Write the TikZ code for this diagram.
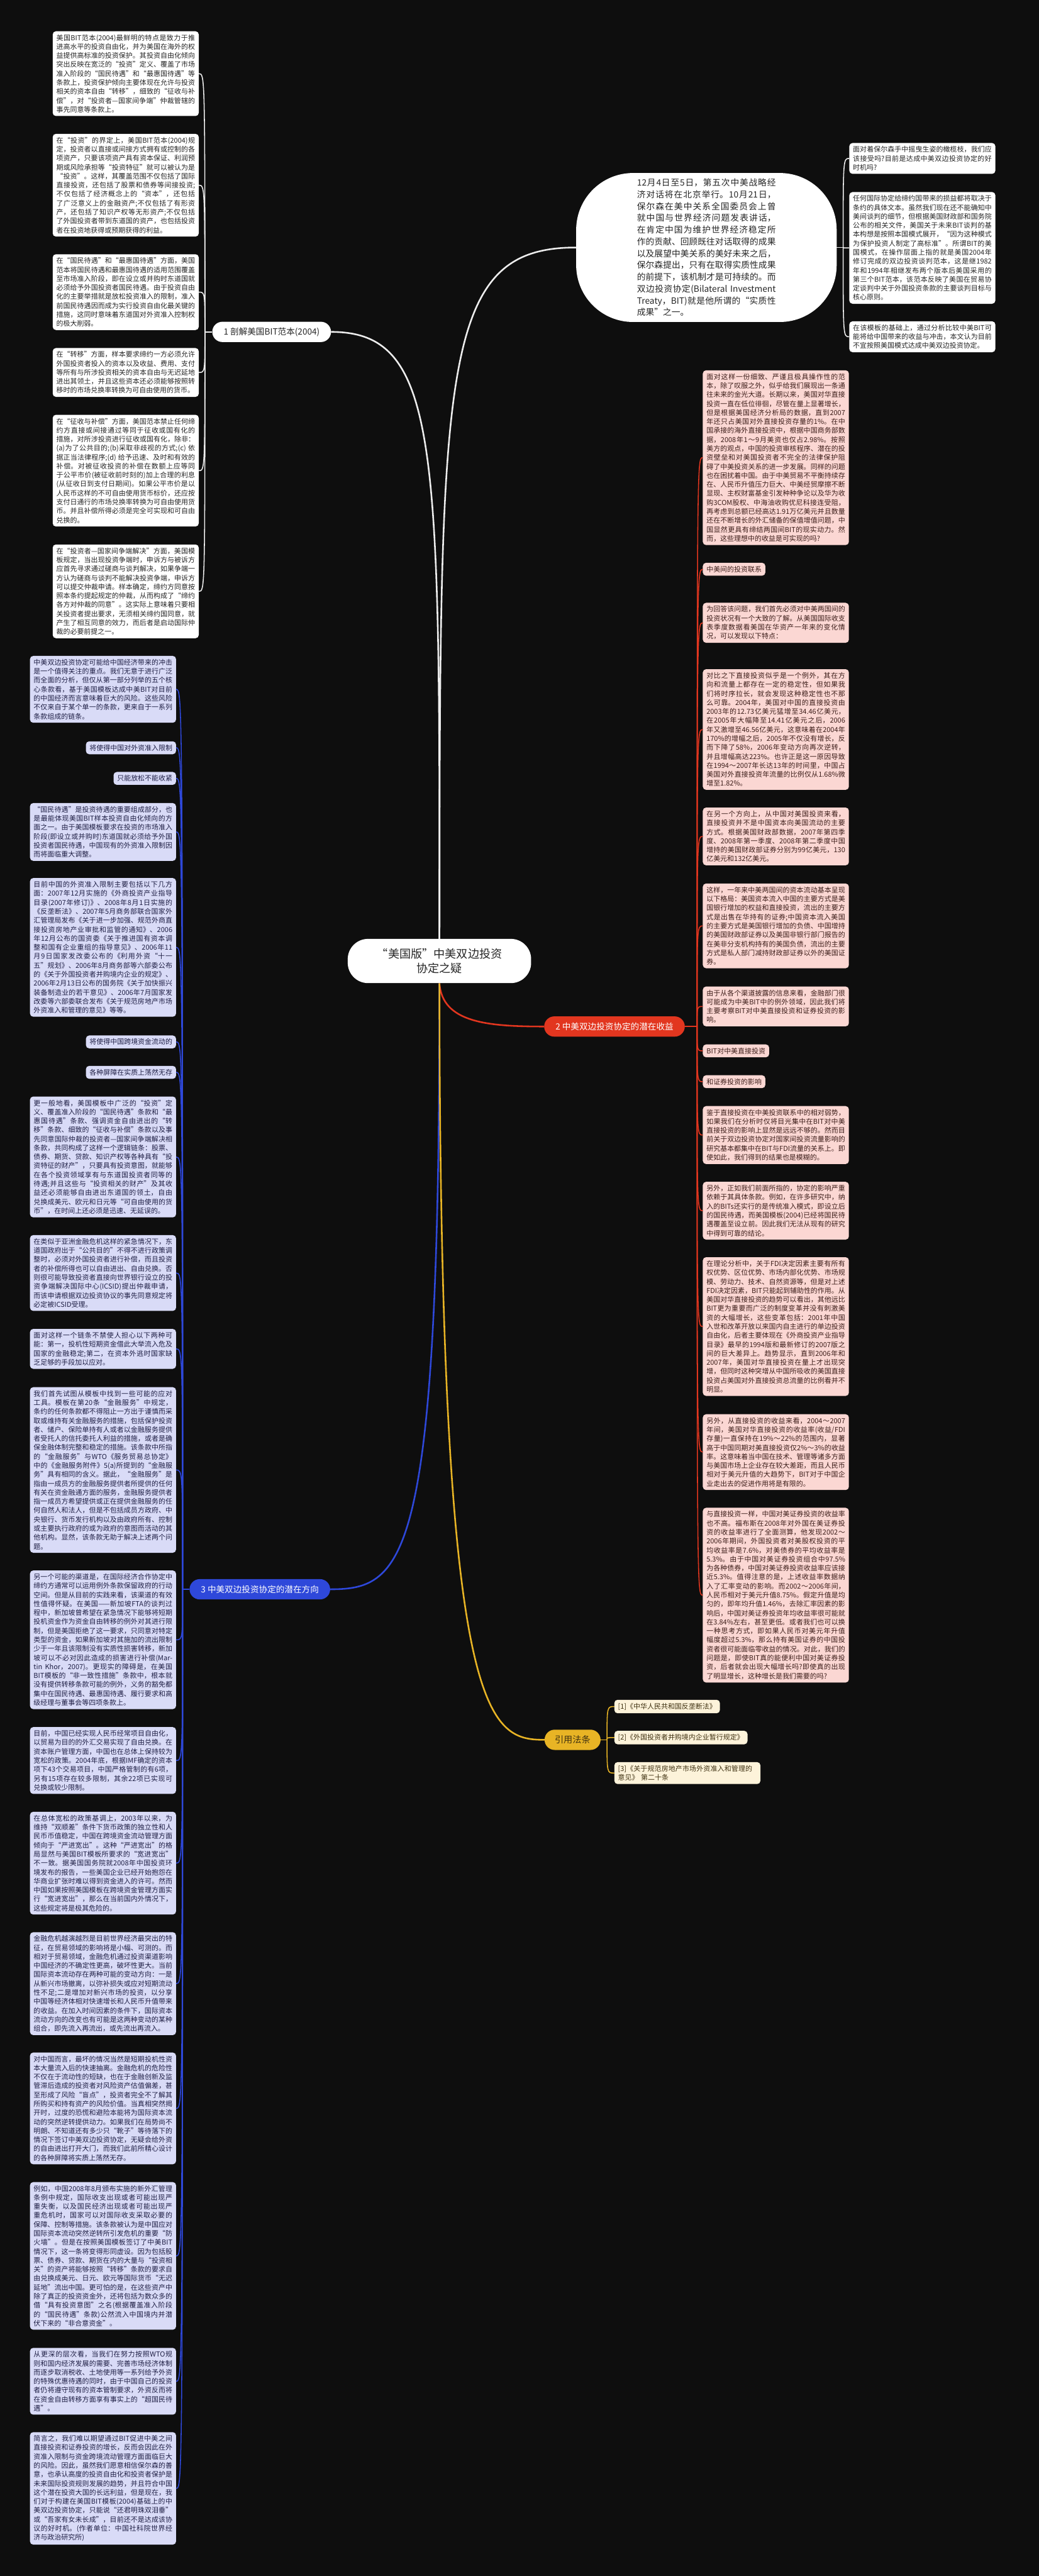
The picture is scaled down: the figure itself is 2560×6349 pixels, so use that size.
\documentclass[tikz,border=0pt]{standalone}
\usepackage{fontspec}
\setmainfont{Noto Sans CJK SC}
\XeTeXlinebreaklocale "zh"
\XeTeXlinebreakskip = 0pt plus 1pt

\definecolor{bgblack}{HTML}{0E0E0E}
\definecolor{darkink}{HTML}{262626}
\definecolor{lavbox}{HTML}{D9DBF7}
\definecolor{lavink}{HTML}{1F1F45}
\definecolor{pinkbox}{HTML}{FBD7D3}
\definecolor{pinkink}{HTML}{3D1E1A}
\definecolor{creambox}{HTML}{FDF3DA}
\definecolor{creamink}{HTML}{3E3010}
\definecolor{greylink}{HTML}{EDEDED}
\definecolor{redlink}{HTML}{E2361F}
\definecolor{bluelink}{HTML}{2E48DA}
\definecolor{goldlink}{HTML}{E8B425}

\tikzset{
  leaf/.style={rounded corners=0.4cm, inner xsep=0.45cm, inner ysep=0.4cm,
    text width=17.1cm, align=justify, font=\fontsize{24.2pt}{31.5pt}\selectfont},
  tag/.style={rounded corners=0.4cm, inner xsep=0.45cm, inner ysep=0.4cm,
    font=\fontsize{24.2pt}{31.5pt}\selectfont},
  paper/.style={fill=white, text=darkink},
  lilac/.style={fill=lavbox, text=lavink},
  rose/.style={fill=pinkbox, text=pinkink},
  cream/.style={fill=creambox, text=creamink},
  branch/.style={rounded corners=1.25cm, minimum height=2.5cm, inner xsep=1.4cm,
    font=\fontsize{30pt}{36pt}\selectfont},
  rootbox/.style={fill=white, text=darkink, rounded corners=2.5cm, minimum width=22.6cm,
    minimum height=5.45cm, align=center, font=\fontsize{40pt}{52.5pt}\selectfont},
  introbox/.style={fill=white, text=darkink, rounded corners=7cm, inner xsep=7.5cm,
    inner ysep=0.7cm, text width=17.1cm, align=justify, font=\fontsize{30.3pt}{41.3pt}\selectfont},
  mainlink/.style={line width=0.2cm},
  leaflink/.style={line width=0.12cm}
}

\begin{document}
\begin{tikzpicture}[x=0.05cm, y=-0.05cm]

\fill[bgblack] (0,0) rectangle (2560,6349);
\useasboundingbox (0,0) rectangle (2560,6349);

\node[rootbox] (root) at (1083,2368.5) {“美国版”中美双边投资\\协定之疑};

\node[introbox] (intro) at (1741,610) {12月4日至5日，第五次中美战略经济对话将在北京举行。10月21日，保尔森在美中关系全国委员会上曾就中国与世界经济问题发表讲话，在肯定中国为维护世界经济稳定所作的贡献、回顾既往对话取得的成果以及展望中美关系的美好未来之后，保尔森提出，只有在取得实质性成果的前提下，该机制才是可持续的。而双边投资协定(Bilateral Investment Treaty，BIT)就是他所谓的“实质性成果”之一。};

\node[leaf, paper, anchor=west] (ask) at (2093,390.5) {面对着保尔森手中摇曳生姿的橄榄枝，我们应该接受吗?目前是达成中美双边投资协定的好时机吗?};
\node[leaf, paper, anchor=west] (plan) at (2093,611) {任何国际协定给缔约国带来的损益都将取决于条约的具体文本。虽然我们现在还不能确知中美间谈判的细节，但根据美国财政部和国务院公布的相关文件，美国关于未来BIT谈判的基本构想是按照本国模式展开，“因为这种模式为保护投资人制定了高标准”。所谓BIT的美国模式，在操作层面上指的就是美国2004年修订完成的双边投资谈判范本，这是继1982年和1994年相继发布两个版本后美国采用的第三个BIT范本，该范本反映了美国在贸易协定谈判中关于外国投资条款的主要谈判目标与核心原则。};
\node[leaf, paper, anchor=west] (view) at (2093,830) {在该模板的基础上，通过分析比较中美BIT可能将给中国带来的收益与冲击，本文认为目前不宜按照美国模式达成中美双边投资协定。};

\node[branch, fill=white, text=darkink, anchor=west] (br1) at (523,818) {1 剖解美国BIT范本(2004)};
\node[branch, fill=redlink, text=white, anchor=west] (br2) at (1341,2530) {2 中美双边投资协定的潜在收益};
\node[branch, fill=bluelink, text=white, anchor=west] (br3) at (467,3917) {3 中美双边投资协定的潜在方向};
\node[branch, fill=goldlink, text=creamink, inner xsep=1.25cm, font=\fontsize{31.3pt}{36pt}\selectfont, anchor=west] (cite) at (1342,4288) {引用法条};

\node[leaf, paper, anchor=east] (a1) at (490,181.5) {美国BIT范本(2004)最鲜明的特点是致力于推进高水平的投资自由化，并为美国在海外的权益提供高标准的投资保护。其投资自由化倾向突出反映在宽泛的“投资”定义、覆盖了市场准入阶段的“国民待遇”和“最惠国待遇”等条款上，投资保护倾向主要体现在允许与投资相关的资本自由“转移”，细致的“征收与补偿”，对“投资者—国家间争端”仲裁管辖的事先同意等条款上。};
\node[leaf, paper, anchor=east] (a2) at (490,456.5) {在“投资”的界定上，美国BIT范本(2004)规定，投资者以直接或间接方式拥有或控制的各项资产，只要该项资产具有资本保证、利润预期或风险承担等“投资特征”就可以被认为是“投资”。这样，其覆盖范围不仅包括了国际直接投资，还包括了股票和债券等间接投资;不仅包括了经济概念上的“资本”，还包括了广泛意义上的金融资产;不仅包括了有形资产，还包括了知识产权等无形资产;不仅包括了外国投资者带到东道国的资产，也包括投资者在投资地获得或预期获得的利益。};
\node[leaf, paper, anchor=east] (a3) at (490,720) {在“国民待遇”和“最惠国待遇”方面，美国范本将国民待遇和最惠国待遇的适用范围覆盖至市场准入阶段，即在设立或并购时东道国就必须给予外国投资者国民待遇。由于投资自由化的主要举措就是放松投资准入的限制，准入前国民待遇因而成为实行投资自由化最关键的措施，这同时意味着东道国对外资准入控制权的极大削弱。};
\node[leaf, paper, anchor=east] (a4) at (490,918) {在“转移”方面，样本要求缔约一方必须允许外国投资者投入的资本以及收益、费用、支付等所有与所涉投资相关的资本自由与无迟延地进出其领土，并且这些资本还必须能够按照转移时的市场兑换率转换为可自由使用的货币。};
\node[leaf, paper, anchor=east] (a5) at (490,1160) {在“征收与补偿”方面，美国范本禁止任何缔约方直接或间接通过等同于征收或国有化的措施，对所涉投资进行征收或国有化，除非：(a)为了公共目的;(b)采取非歧视的方式;(c) 依据正当法律程序;(d) 给予迅速、及时和有效的补偿。对被征收投资的补偿在数额上应等同于公平市价(被征收前时刻的)加上合理的利息(从征收日到支付日期间)。如果公平市价是以人民币这样的不可自由使用货币标价，还应按支付日通行的市场兑换率转换为可自由使用货币。并且补偿所得必须是完全可实现和可自由兑换的。};
\node[leaf, paper, anchor=east] (a6) at (490,1457.5) {在“投资者—国家间争端解决”方面，美国模板规定，当出现投资争端时，申诉方与被诉方应首先寻求通过磋商与谈判解决，如果争端一方认为磋商与谈判不能解决投资争端，申诉方可以提交仲裁申请。样本确定，缔约方同意按照本条约提起规定的仲裁，从而构成了“缔约各方对仲裁的同意”。这实际上意味着只要相关投资者提出要求，无须相关缔约国同意，就产生了相互同意的效力，而后者是启动国际仲裁的必要前提之一。};

\node[leaf, rose, anchor=west] (p1) at (1732,1128) {面对这样一份细致、严谨且极具操作性的范本，除了叹服之外，似乎给我们展现出一条通往未来的金光大道。长期以来，美国对华直接投资一直在低位徘徊，尽管在量上显著增长，但是根据美国经济分析局的数据，直到2007年还只占美国对外直接投资存量的1\%。在中国承接的海外直接投资中，根据中国商务部数据，2008年1～9月美资也仅占2.98\%。按照美方的观点，中国的投资审核程序、潜在的投资壁垒和对美国投资者不完全的法律保护阻碍了中美投资关系的进一步发展。同样的问题也在困扰着中国。由于中美贸易不平衡持续存在、人民币升值压力巨大、中美经贸摩擦不断显现、主权财富基金引发种种争论以及华为收购3COM股权、中海油收购优尼科接连受阻，再考虑到总额已经高达1.91万亿美元并且数量还在不断增长的外汇储备的保值增值问题，中国显然更具有缔结两国间BIT的现实动力。然而，这些理想中的收益是可实现的吗?};
\node[tag, rose, anchor=west] (p2) at (1732,1403) {中美间的投资联系};
\node[leaf, rose, anchor=west] (p3) at (1732,1535) {为回答该问题，我们首先必须对中美两国间的投资状况有一个大致的了解。从美国国际收支表季度数据看美国在华资产一年来的变化情况，可以发现以下特点：};
\node[leaf, rose, anchor=west] (p4) at (1732,1798) {对比之下直接投资似乎是一个例外，其在方向和流量上都存在一定的稳定性，但如果我们将时序拉长，就会发现这种稳定性也不那么可靠。2004年，美国对中国的直接投资由2003年的12.73亿美元猛增至34.46亿美元，在2005年大幅降至14.41亿美元之后，2006年又激增至46.56亿美元，这意味着在2004年170\%的增幅之后，2005年不仅没有增长，反而下降了58\%，2006年变动方向再次逆转，并且增幅高达223\%。也许正是这一原因导致在1994～2007年长达13年的时间里，中国占美国对外直接投资年流量的比例仅从1.68\%微增至1.82\%。};
\node[leaf, rose, anchor=west] (p5) at (1732,2061.5) {在另一个方向上，从中国对美国投资来看，直接投资并不是中国资本向美国流动的主要方式。根据美国财政部数据，2007年第四季度、2008年第一季度、2008年第二季度中国增持的美国财政部证券分别为99亿美元，130亿美元和132亿美元。};
\node[leaf, rose, anchor=west] (p6) at (1732,2282) {这样，一年来中美两国间的资本流动基本呈现以下格局：美国资本流入中国的主要方式是美国银行增加的权益和直接投资，流出的主要方式是出售在华持有的证券;中国资本流入美国的主要方式是美国银行增加的负债、中国增持的美国财政部证券以及美国非银行部门报告的在美非分支机构持有的美国负债，流出的主要方式是私人部门减持财政部证券以外的美国证券。};
\node[leaf, rose, anchor=west] (p7) at (1732,2480.5) {由于从各个渠道披露的信息来看，金融部门很可能成为中美BIT中的例外领域，因此我们将主要考察BIT对中美直接投资和证券投资的影响。};
\node[tag, rose, anchor=west] (p8) at (1732,2590) {BIT对中美直接投资};
\node[tag, rose, anchor=west] (p9) at (1732,2666) {和证券投资的影响};
\node[leaf, rose, anchor=west] (p10) at (1732,2797.5) {鉴于直接投资在中美投资联系中的相对弱势，如果我们在分析时仅将目光集中在BIT对中美直接投资的影响上显然是远远不够的。然而目前关于双边投资协定对国家间投资流量影响的研究基本都集中在BIT与FDI流量的关系上。即使如此，我们得到的结果也是模糊的。};
\node[leaf, rose, anchor=west] (p11) at (1732,2984) {另外，正如我们前面所指的，协定的影响严重依赖于其具体条款。例如，在许多研究中，纳入的BITs还实行的是传统准入模式，即设立后的国民待遇，而美国模板(2004)已经将国民待遇覆盖至设立前。因此我们无法从现有的研究中得到可靠的结论。};
\node[leaf, rose, anchor=west] (p12) at (1732,3269.5) {在理论分析中，关于FDI决定因素主要有所有权优势、区位优势、市场内部化优势、市场规模、劳动力、技术、自然资源等，但是对上述FDI决定因素，BIT只能起到辅助性的作用。从美国对华直接投资的趋势可以看出，其他远比BIT更为重要而广泛的制度变革并没有刺激美资的大幅增长，这些变革包括：2001年中国入世和改革开放以来国内自主进行的单边投资自由化，后者主要体现在《外商投资产业指导目录》最早的1994版和最新修订的2007版之间的巨大差异上。趋势显示，直到2006年和2007年，美国对华直接投资在量上才出现突增，但同时这种突增从中国所吸收的美国直接投资占美国对外直接投资总流量的比例看并不明显。};
\node[leaf, rose, anchor=west] (p13) at (1732,3579) {另外，从直接投资的收益来看，2004～2007年间，美国对华直接投资的收益率(收益/FDI存量)一直保持在19\%～22\%的范围内，显著高于中国同期对美直接投资仅2\%～3\%的收益率。这意味着当中国在技术、管理等诸多方面与美国市场上企业存在较大差距，而且人民币相对于美元升值的大趋势下，BIT对于中国企业走出去的促进作用将是有限的。};
\node[leaf, rose, anchor=west] (p14) at (1732,3931.5) {与直接投资一样，中国对美证券投资的收益率也不高。福布斯在2008年对外国在美证券投资的收益率进行了全面测算，他发现2002～2006年期间，外国投资者对美股权投资的平均收益率是7.6\%，对美债券的平均收益率是5.3\%。由于中国对美证券投资组合中97.5\%为各种债券，中国对美证券投资收益率应该接近5.3\%。值得注意的是，上述收益率数据纳入了汇率变动的影响。而2002～2006年间，人民币相对于美元升值8.75\%。假定升值是均匀的，即年均升值1.46\%，去除汇率因素的影响后，中国对美证券投资年均收益率很可能就在3.84\%左右，甚至更低。或者我们也可以换一种思考方式，即如果人民币对美元年升值幅度超过5.3\%，那么持有美国证券的中国投资者很可能面临零收益的情况。对此，我们的问题是，即使BIT真的能便利中国对美证券投资，后者就会出现大幅增长吗?即使真的出现了明显增长，这种增长是我们需要的吗?};

\node[leaf, lilac, anchor=east] (c1) at (434,1699) {中美双边投资协定可能给中国经济带来的冲击是一个值得关注的重点。我们无意于进行广泛而全面的分析，但仅从第一部分列举的五个核心条款看，基于美国模板达成中美BIT对目前的中国经济而言意味着巨大的风险。这些风险不仅来自于某个单一的条款，更来自于一系列条款组成的链条。};
\node[tag, lilac, anchor=east] (c2) at (434,1843) {将使得中国对外资准入限制};
\node[tag, lilac, anchor=east] (c3) at (434,1918.5) {只能放松不能收紧};
\node[leaf, lilac, anchor=east] (c4) at (434,2050.5) {“国民待遇”是投资待遇的重要组成部分，也是最能体现美国BIT样本投资自由化倾向的方面之一。由于美国模板要求在投资的市场准入阶段(即设立或并购时)东道国就必须给予外国投资者国民待遇，中国现有的外资准入限制因而将面临重大调整。};
\node[leaf, lilac, anchor=east] (c5) at (434,2335) {目前中国的外资准入限制主要包括以下几方面：2007年12月实施的《外商投资产业指导目录(2007年修订)》、2008年8月1日实施的《反垄断法》、2007年5月商务部联合国家外汇管理局发布《关于进一步加强、规范外商直接投资房地产业审批和监管的通知》、2006年12月公布的国资委《关于推进国有资本调整和国有企业重组的指导意见》、2006年11月9日国家发改委公布的《利用外资“十一五”规划》、2006年8月商务部等六部委公布的《关于外国投资者并购境内企业的规定》、2006年2月13日公布的国务院《关于加快振兴装备制造业的若干意见》、2006年7月国家发改委等六部委联合发布《关于规范房地产市场外资准入和管理的意见》等等。};
\node[tag, lilac, anchor=east] (c6) at (434,2568) {将使得中国跨境资金流动的};
\node[tag, lilac, anchor=east] (c7) at (434,2643) {各种屏障在实质上荡然无存};
\node[leaf, lilac, anchor=east] (c8) at (434,2851.5) {更一般地看，美国模板中广泛的“投资”定义、覆盖准入阶段的“国民待遇”条款和“最惠国待遇”条款、强调资金自由进出的“转移”条款、细致的“征收与补偿”条款以及事先同意国际仲裁的投资者—国家间争端解决相条款，共同构成了这样一个逻辑链条：股票、债券、期货、贷款、知识产权等各种具有“投资特征的财产”，只要具有投资意图，就能够在各个投资领域享有与东道国投资者同等的待遇;并且这些与“投资相关的财产”及其收益还必须能够自由进出东道国的领土，自由兑换成美元、欧元和日元等“可自由使用的货币”，在时间上还必须是迅速、无延误的。};
\node[leaf, lilac, anchor=east] (c9) at (434,3137.5) {在类似于亚洲金融危机这样的紧急情况下，东道国政府出于“公共目的”不得不进行政策调整时，必须对外国投资者进行补偿，而且投资者的补偿所得也可以自由进出、自由兑换。否则很可能导致投资者直接向世界银行设立的投资争端解决国际中心(ICSID)提出仲裁申请，而该申请根据双边投资协议的事先同意规定将必定被ICSID受理。};
\node[leaf, lilac, anchor=east] (c10) at (434,3324.5) {面对这样一个链条不禁使人担心以下两种可能：第一，投机性短期资金借此大举流入危及国家的金融稳定;第二，在资本外逃时国家缺乏足够的手段加以应对。};
\node[leaf, lilac, anchor=east] (c11) at (434,3623) {我们首先试图从模板中找到一些可能的应对工具。模板在第20条“金融服务”中规定，条约的任何条款都不得阻止一方出于谨慎而采取或维持有关金融服务的措施，包括保护投资者、储户、保险单持有人或者以金融服务提供者受托人的信托委托人利益的措施，或者是确保金融体制完整和稳定的措施。该条款中所指的“金融服务”与WTO《服务贸易总协定》中的《金融服务附件》5(a)所提到的“金融服务”具有相同的含义。据此，“金融服务”是指由一成员方的金融服务提供者所提供的任何有关在资金融通方面的服务，金融服务提供者指一成员方希望提供或正在提供金融服务的任何自然人和法人，但是不包括成员方政府、中央银行、货币发行机构以及由政府所有、控制或主要执行政府的或为政府的意图而活动的其他机构。显然，该条款无助于解决上述两个问题。};
\node[leaf, lilac, anchor=east] (c12) at (434,4041.5) {另一个可能的渠道是，在国际经济合作协定中缔约方通常可以运用例外条款保留政府的行动空间。但是从目前的实践来看，该渠道的有效性值得怀疑。在美国——新加坡FTA的谈判过程中，新加坡曾希望在紧急情况下能够将短期投机资金作为资金自由转移的例外对其进行限制，但是美国拒绝了这一要求，只同意对特定类型的资金，如果新加坡对其施加的流出限制少于一年且该限制没有实质性损害转移，新加坡可以不必对因此造成的损害进行补偿(Martin Khor，2007)。更现实的障碍是，在美国BIT模板的“非一致性措施”条款中，根本就没有提供转移条款可能的例外，义务的豁免都集中在国民待遇、最惠国待遇、履行要求和高级经理与董事会等四项条款上。};
\node[leaf, lilac, anchor=east] (c13) at (434,4339) {目前，中国已经实现人民币经常项目自由化，以贸易为目的的外汇交易实现了自由兑换。在资本账户管理方面，中国也在总体上保持较为宽松的政策。2004年底，根据IMF确定的资本项下43个交易项目，中国严格管制的有6项，另有15项存在较多限制，其余22项已实现可兑换或较少限制。};
\node[leaf, lilac, anchor=east] (c14) at (434,4592) {在总体宽松的政策基调上，2003年以来，为维持“双顺差”条件下货币政策的独立性和人民币币值稳定，中国在跨境资金流动管理方面倾向于“严进宽出”。这种“严进宽出”的格局显然与美国BIT模板所要求的“宽进宽出”不一致。据美国国务院就2008年中国投资环境发布的报告，一些美国企业已经开始抱怨在华商业扩张时难以得到资金进入的许可。然而中国如果按照美国模板在跨境资金管理方面实行“宽进宽出”，那么在当前国内外情况下，这些规定将是极其危险的。};
\node[leaf, lilac, anchor=east] (c15) at (434,4889) {金融危机越演越烈是目前世界经济最突出的特征，在贸易领域的影响将是小幅、可测的。而相对于贸易领域，金融危机通过投资渠道影响中国经济的不确定性更高，破坏性更大。当前国际资本流动存在两种可能的变动方向：一是从新兴市场撤离，以弥补损失或应对短期流动性不足;二是增加对新兴市场的投资，以分享中国等经济体相对快速增长和人民币升值带来的收益。在加入时间因素的条件下，国际资本流动方向的改变也有可能是这两种变动的某种组合，即先流入再流出，或先流出再流入。};
\node[leaf, lilac, anchor=east] (c16) at (434,5196.5) {对中国而言，最坏的情况当然是短期投机性资本大量流入后的快速抽离。金融危机的危险性不仅在于流动性的短缺，也在于金融创新及监管滞后造成的投资者对风险资产估值偏差，甚至形成了风险“盲点”，投资者完全不了解其所购买和持有资产的风险价值。当真相突然揭开时，过度的恐慌和避险本能将为国际资本流动的突然逆转提供动力。如果我们在局势尚不明朗、不知道还有多少只“靴子”等待落下的情况下签订中美双边投资协定，无疑会给外资的自由进出打开大门，而我们此前所精心设计的各种屏障将实质上荡然无存。};
\node[leaf, lilac, anchor=east] (c17) at (434,5560) {例如，中国2008年8月颁布实施的新外汇管理条例中规定，国际收支出现或者可能出现严重失衡，以及国民经济出现或者可能出现严重危机时，国家可以对国际收支采取必要的保障、控制等措施。该条款被认为是中国应对国际资本流动突然逆转所引发危机的重要“防火墙”。但是在按照美国模板签订了中美BIT情况下，这一条将变得形同虚设。因为包括股票、债券、贷款、期货在内的大量与“投资相关”的资产将能够按照“转移”条款的要求自由兑换成美元、日元、欧元等国际货币“无迟延地”流出中国。更可怕的是，在这些资产中除了真正的投资资金外，还将包括为数众多的借“具有投资意图”之名(根据覆盖准入阶段的“国民待遇”条款)公然流入中国境内并潜伏下来的“非合意资金”。};
\node[leaf, lilac, anchor=east] (c18) at (434,5869) {从更深的层次看，当我们在努力按照WTO规则和国内经济发展的需要、完善市场经济体制而逐步取消税收、土地使用等一系列给予外资的特殊优惠待遇的同时，由于中国自己的投资者仍将遵守现有的资本管制要求，外资反而将在资金自由转移方面享有事实上的“超国民待遇”。};
\node[leaf, lilac, anchor=east] (c19) at (434,6133) {简言之，我们难以期望通过BIT促进中美之间直接投资和证券投资的增长，反而会因此在外资准入限制与资金跨境流动管理方面面临巨大的风险。因此，虽然我们愿意相信保尔森的善意，也承认高度的投资自由化和投资者保护是未来国际投资规则发展的趋势，并且符合中国这个潜在投资大国的长远利益，但是现在，我们对于构建在美国BIT模板(2004)基础上的中美双边投资协定，只能说“还君明珠双泪垂”或“吾家有女未长成”，目前还不是达成该协议的好时机。(作者单位：中国社科院世界经济与政治研究所)};

\node[tag, cream, anchor=west] (r1) at (1514,4206) {[1]《中华人民共和国反垄断法》};
\node[tag, cream, anchor=west] (r2) at (1514,4282.5) {[2]《外国投资者并购境内企业暂行规定》};
\node[leaf, cream, align=left, anchor=west] (r3) at (1514,4370) {[3]《关于规范房地产市场外资准入和管理的意见》 第二十条};

\coordinate (s0) at (2078,610);
\coordinate (s1) at (505,818);
\coordinate (s2) at (1718,2530);
\coordinate (s3) at (450,3917);
\coordinate (s4) at (1496,4288);

\draw[greylink, mainlink] (root.north) .. controls (1084,1100) and (1084,818) .. (br1.east);
\draw[greylink, mainlink] (root.north) .. controls (1084,900) and (1084,610) .. (intro.west);
\draw[redlink, mainlink] (root.south) .. controls (1090,2520) and (1200,2530) .. (br2.west);
\draw[bluelink, mainlink] (root.south) .. controls (1084,3850) and (1000,3917) .. (br3.east);
\draw[goldlink, mainlink] (root.south) .. controls (1084,4240) and (1200,4288) .. (cite.west);

\draw[greylink, leaflink] (intro.east) -- (s0);
\foreach \n in {ask,plan,view}
  \draw[greylink, leaflink] (s0) .. controls (s0 |- \n.west) .. (\n.west);

\draw[greylink, leaflink] (br1.west) -- (s1);
\foreach \n in {a1,a2,a3,a4,a5,a6}
  \draw[greylink, leaflink] (s1) .. controls (s1 |- \n.east) .. (\n.east);

\draw[redlink, leaflink] (br2.east) -- (s2);
\foreach \n in {p1,p2,p3,p4,p5,p6,p7,p8,p9,p10,p11,p12,p13,p14}
  \draw[redlink, leaflink] (s2) .. controls (s2 |- \n.west) .. (\n.west);

\draw[bluelink, leaflink] (br3.west) -- (s3);
\foreach \n in {c1,c2,c3,c4,c5,c6,c7,c8,c9,c10,c11,c12,c13,c14,c15,c16,c17,c18,c19}
  \draw[bluelink, leaflink] (s3) .. controls (s3 |- \n.east) .. (\n.east);

\draw[goldlink, leaflink] (cite.east) -- (s4);
\foreach \n in {r1,r2,r3}
  \draw[goldlink, leaflink] (s4) .. controls (s4 |- \n.west) .. (\n.west);

\end{tikzpicture}
\end{document}
